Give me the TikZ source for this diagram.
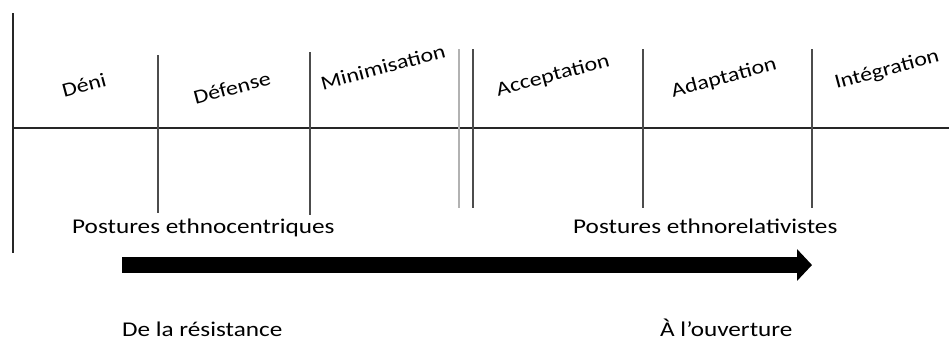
\documentclass[tikz,border=0pt]{standalone}
\usepackage{fontspec}
\setmainfont{Carlito}
\usetikzlibrary{arrows.meta}
\begin{document}
\begin{tikzpicture}[x=1pt,y=-1pt,
  axis/.style={line width=2.6pt,draw=black!85},
  divider/.style={line width=1.6pt,draw=black!70},
  faint/.style={line width=2pt,draw=black!30},
  stage/.style={font=\fontsize{20}{24}\selectfont,rotate=15,inner sep=0pt},
  caption/.style={font=\fontsize{21}{24}\selectfont,inner sep=0pt,anchor=base west},
  progress/.style={line width=16pt,-{Triangle[length=15pt,width=31pt]}}]
  \useasboundingbox[fill=white] (0,0) rectangle (949,341);

  % axes
  \coordinate (yTop) at (13,13);
  \coordinate (yBot) at (13,253);
  \coordinate (xL) at (13,128);
  \coordinate (xR) at (949,128);
  \draw[axis] (yTop) -- (yBot);
  \draw[axis] (xL) -- (xR);

  % stage dividers
  \draw[divider] (158,55) -- (158,213);
  \draw[divider] (310,52) -- (310,215);
  \draw[faint]   (459,49) -- (459,208);
  \draw[divider] (473,49) -- (473,208);
  \draw[divider] (643,49) -- (643,208);
  \draw[divider] (812,49) -- (812,208);

  % stage names
  \node[stage] (deni) at (84,85) {\scalebox{1.2}[1]{Déni}};
  \node[stage] (defense) at (232,88) {\scalebox{1.2}[1]{Défense}};
  \node[stage] (mini) at (383,67) {\scalebox{1.2}[1]{Minimisation}};
  \node[stage] (accept) at (553,76) {\scalebox{1.2}[1]{Acceptation}};
  \node[stage] (adapt) at (724,78) {\scalebox{1.2}[1]{Adaptation}};
  \node[stage] (integ) at (887,70) {\scalebox{1.2}[1]{Intégration}};

  % postures
  \node[caption] (ethnoc) at (72,233) {\scalebox{1.2}[1]{Postures ethnocentriques}};
  \node[caption] (ethnor) at (573,233) {\scalebox{1.2}[1]{Postures ethnorelativistes}};

  % progression arrow
  \coordinate (arrS) at (122,265);
  \coordinate (arrE) at (812,265);
  \draw[progress] (arrS) -- (arrE);

  % ends of the progression
  \node[caption] (resist) at (122,336) {\scalebox{1.2}[1]{De la résistance}};
  \node[caption] (ouvert) at (660,336) {\scalebox{1.2}[1]{À l’ouverture}};
\end{tikzpicture}
\end{document}
